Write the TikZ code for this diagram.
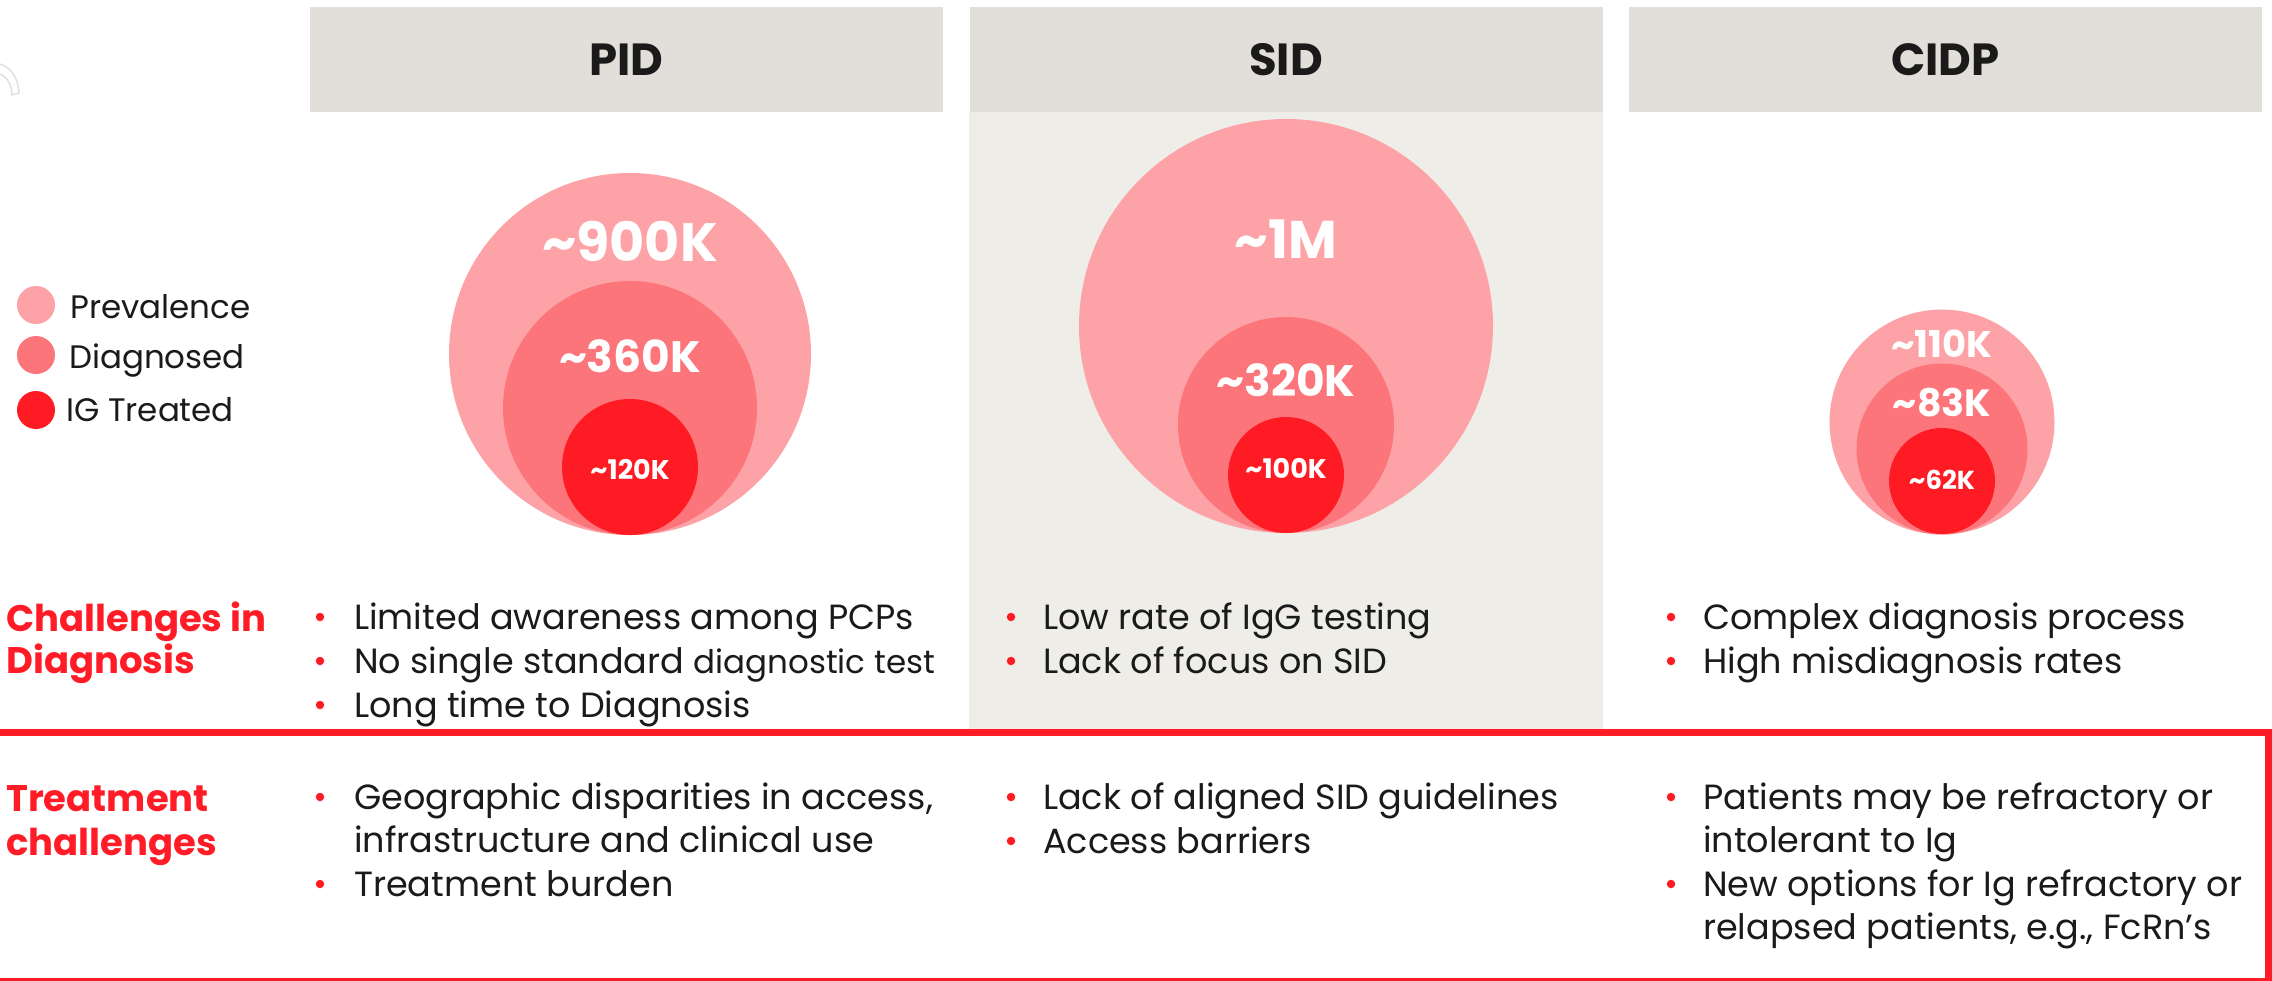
\documentclass[tikz,border=0pt]{standalone}
\usepackage{fontspec}
\setmainfont{Poppins}
\definecolor{prev}{HTML}{FDA3A7}
\definecolor{diag}{HTML}{FC757B}
\definecolor{igt}{HTML}{FE1B24}
\definecolor{hdr}{HTML}{E2DFDA}
\definecolor{sidbg}{HTML}{EFEDE8}
\definecolor{redline}{HTML}{FF1C27}
\definecolor{txt}{HTML}{1A1A1A}
\newcommand{\tld}{\textasciitilde}
\tikzset{
  hdrbox/.style={fill=hdr, draw=none, inner sep=0pt, minimum width=633pt, minimum height=105pt,
     text=txt, font=\fontsize{45}{45}\selectfont\bfseries},
  disc/.style={circle, draw=none, inner sep=0pt},
  num/.style={text=white, inner sep=0pt},
  item/.style={anchor=base west, inner sep=0pt, text=txt, font=\fontsize{35}{42}\selectfont},
  dot/.style={circle, fill=igt, draw=none, inner sep=0pt, minimum size=8.5pt},
  rowlab/.style={anchor=base west, inner sep=0pt, text=redline, font=\fontsize{37}{44}\selectfont\bfseries},
  leg/.style={anchor=base west, inner sep=0pt, text=txt, font=\fontsize{32.5}{38}\selectfont},
}
\begin{document}
\begin{tikzpicture}[x=1pt, y=-1pt]
\useasboundingbox (0,0) rectangle (2272,980);
\fill[white] (0,0) rectangle (2272,980);
% faint icon at top left
\draw[black!12, line width=1.5pt, line join=round] (0,64) .. controls (12,68) and (19,80) .. (19,93) -- (12,95) .. controls (12,85) and (7,77) .. (0,74);
% SID column background
\node[fill=sidbg, draw=none, inner sep=0pt, minimum width=634pt, minimum height=620pt, anchor=north west] (sidbg) at (969,112) {};
% headers
\node[hdrbox] (hPID) at (626.5,59.5) {PID};
\node[hdrbox] (hSID) at (1286,59.5) {SID};
\node[hdrbox] (hCIDP) at (1945.5,59.5) {CIDP};
% PID circles
\node[disc, fill=prev, minimum size=362pt] (pidA) at (630,354) {};
\node[disc, fill=diag, minimum size=254pt] (pidB) at (630,408) {};
\node[disc, fill=igt, minimum size=136pt] (pidC) at (630,467) {};
\node[num, font=\fontsize{54}{54}\selectfont\bfseries] (pidAt) at (630,241) {\tld900K};
\node[num, font=\fontsize{44}{44}\selectfont\bfseries] (pidBt) at (630,356) {\tld360K};
\node[num, font=\fontsize{27}{27}\selectfont\bfseries] (pidCt) at (630,469) {\tld120K};
% SID circles
\node[disc, fill=prev, minimum size=414pt] (sidA) at (1286,326) {};
\node[disc, fill=diag, minimum size=216pt] (sidB) at (1286,425) {};
\node[disc, fill=igt, minimum size=116pt] (sidC) at (1286,475) {};
\node[num, font=\fontsize{53}{53}\selectfont\bfseries] (sidAt) at (1286,239) {\tld1M};
\node[num, font=\fontsize{44}{44}\selectfont\bfseries] (sidBt) at (1286,380) {\tld320K};
\node[num, font=\fontsize{27}{27}\selectfont\bfseries] (sidCt) at (1286,468) {\tld100K};
% CIDP circles
\node[disc, fill=prev, minimum size=225pt] (cidA) at (1942,422) {};
\node[disc, fill=diag, minimum size=171pt] (cidB) at (1942,449) {};
\node[disc, fill=igt, minimum size=106pt] (cidC) at (1942,481) {};
\node[num, font=\fontsize{37}{37}\selectfont\bfseries] (cidAt) at (1942,344) {\tld110K};
\node[num, font=\fontsize{38}{38}\selectfont\bfseries] (cidBt) at (1942,403) {\tld83K};
\node[num, font=\fontsize{26}{26}\selectfont\bfseries] (cidCt) at (1942,480) {\tld62K};
% legend
\node[disc, fill=prev, minimum size=38pt] (lg1) at (36,305) {};
\node[disc, fill=diag, minimum size=38pt] (lg2) at (36,355) {};
\node[disc, fill=igt, minimum size=38pt] (lg3) at (36,410) {};
\node[leg] (lgt1) at (70,318) {Prevalence};
\node[leg] (lgt2) at (69,368) {Diagnosed};
\node[leg] (lgt3) at (66,421) {IG Treated};
% red frame
\draw[redline, line width=7pt] (-20,732) rectangle (2268.5,981.5);
% row labels
\node[rowlab] (rl1) at (6,631) {Challenges in};
\node[rowlab] (rl2) at (6,673) {Diagnosis};
\node[rowlab] (rl3) at (6,811) {Treatment};
\node[rowlab] (rl4) at (6,855) {challenges};
% PID diagnosis
\node[dot] (pd1) at (320,617) {};
\node[dot] (pd2) at (320,661) {};
\node[dot] (pd3) at (320,705) {};
\node[item] (pdt1) at (354,629) {Limited awareness among PCPs};
\node[item] (pdt2) at (354,673) {No single standard {\fontsize{32.5}{40}\selectfont diagnostic test}};
\node[item] (pdt3) at (354,717) {Long time to Diagnosis};
% PID treatment
\node[dot] (pt1) at (320,797) {};
\node[dot] (pt2) at (320,884) {};
\node[item] (ptt1) at (354,809) {Geographic disparities in access,};
\node[item] (ptt1b) at (354,852) {infrastructure and clinical use};
\node[item] (ptt2) at (354,896) {Treatment burden};
% SID diagnosis
\node[dot] (sd1) at (1011,617) {};
\node[dot] (sd2) at (1011,661) {};
\node[item] (sdt1) at (1043,629) {Low rate of IgG testing};
\node[item] (sdt2) at (1043,673) {Lack of focus on SID};
% SID treatment
\node[dot] (st1) at (1011,797) {};
\node[dot] (st2) at (1011,841) {};
\node[item] (stt1) at (1043,809) {Lack of aligned SID guidelines};
\node[item] (stt2) at (1043,853) {Access barriers};
% CIDP diagnosis
\node[dot] (cd1) at (1671,617) {};
\node[dot] (cd2) at (1671,661) {};
\node[item] (cdt1) at (1703,629) {Complex diagnosis process};
\node[item] (cdt2) at (1703,673) {High misdiagnosis rates};
% CIDP treatment
\node[dot] (ct1) at (1671,797) {};
\node[dot] (ct2) at (1671,884) {};
\node[item] (ctt1) at (1703,809) {Patients may be refractory or};
\node[item] (ctt1b) at (1703,852) {intolerant to Ig};
\node[item] (ctt2) at (1703,896) {New options for Ig refractory or};
\node[item] (ctt2b) at (1703,939) {relapsed patients, e.g., FcRn’s};
\end{tikzpicture}
\end{document}
